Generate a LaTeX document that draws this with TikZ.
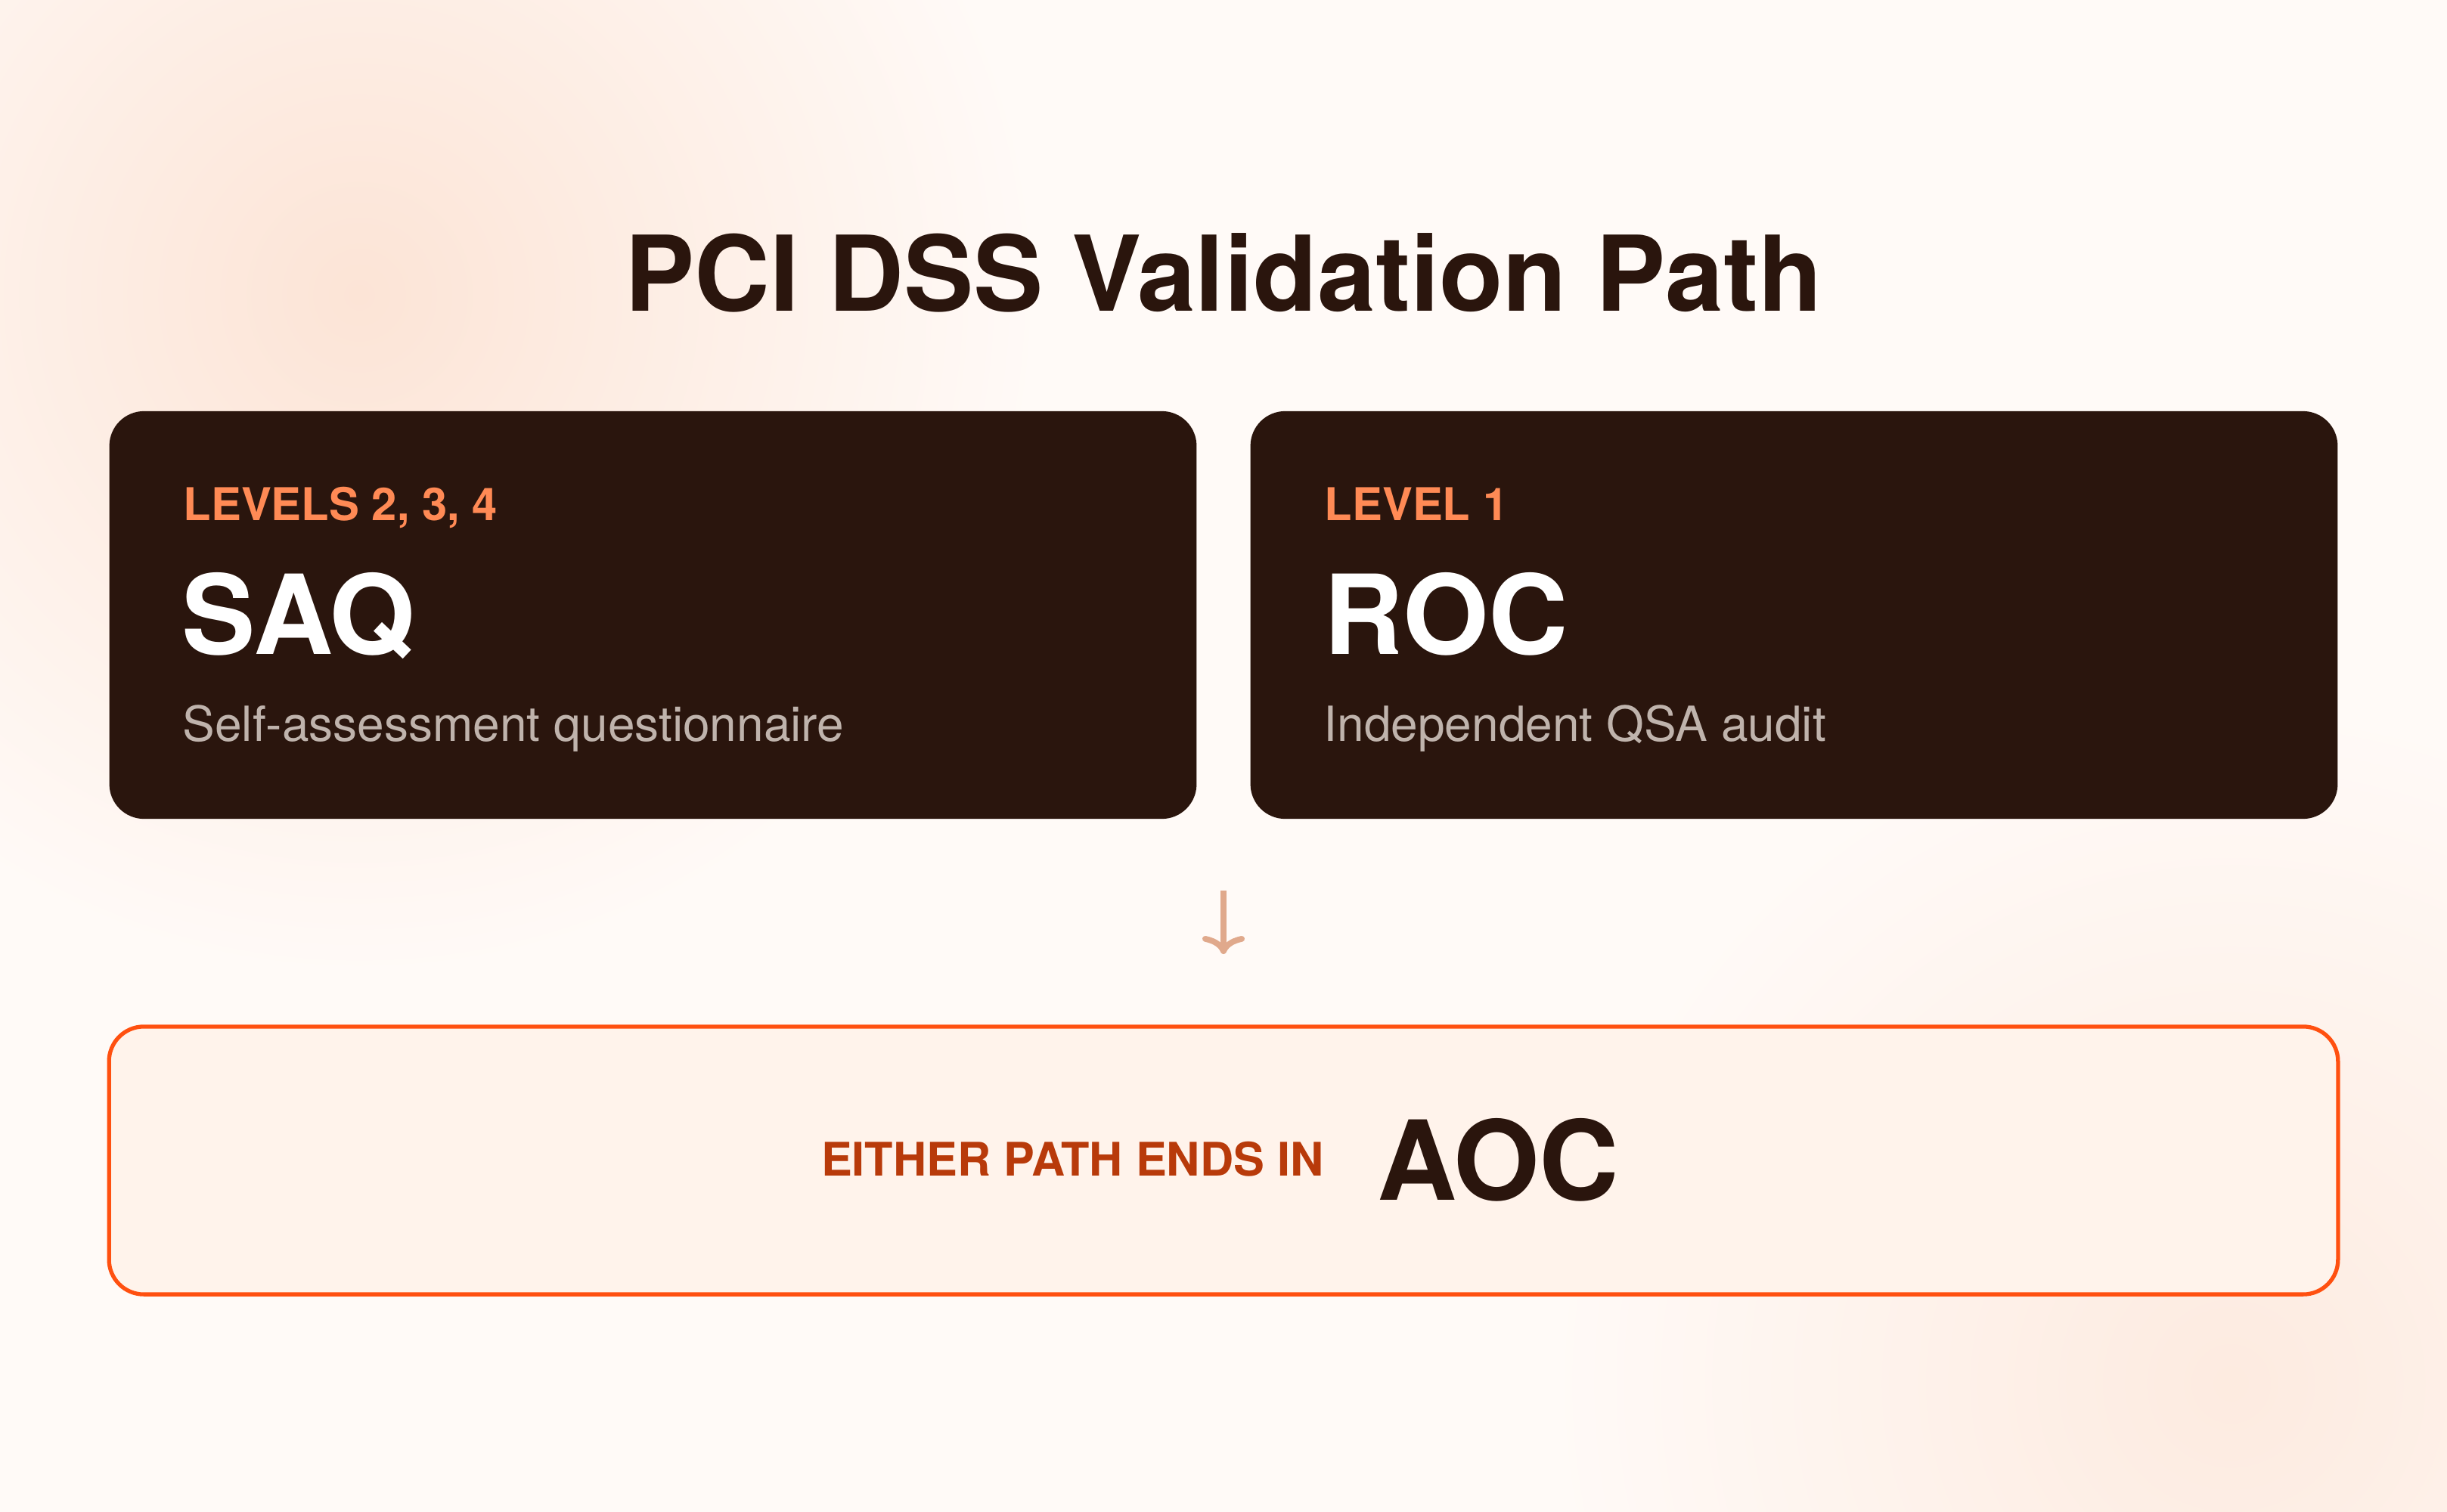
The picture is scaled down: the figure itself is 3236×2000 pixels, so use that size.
\documentclass[tikz,border=0pt]{standalone}
\usepackage{fontspec}
\setmainfont{TeX Gyre Heros}
\usetikzlibrary{arrows.meta}
\definecolor{paper}{HTML}{FFFAF7}
\definecolor{glow}{HTML}{FCE4D6}
\definecolor{ink}{HTML}{2A150D}
\definecolor{tangerine}{HTML}{FF8A55}
\definecolor{ash}{HTML}{BFB3AC}
\definecolor{flame}{HTML}{FF5010}
\definecolor{blush}{HTML}{FFF3EB}
\definecolor{rust}{HTML}{B83A0A}
\definecolor{clay}{HTML}{E0A98C}

\begin{document}
\begin{tikzpicture}[x=0.01cm, y=-0.01cm,
    card/.style={fill=ink, rounded corners=0.46cm, minimum width=14.37cm, minimum height=5.39cm, inner sep=0},
    endbox/.style={draw=flame, line width=1.5pt, fill=blush, rounded corners=0.46cm, minimum width=29.46cm, minimum height=3.54cm, inner sep=0},
    tag/.style={text=tangerine, font=\bfseries\fontsize{17}{20}\selectfont, inner sep=0},
    big/.style={text=white, font=\bfseries\fontsize{41.5}{48}\selectfont, inner sep=0},
    sub/.style={text=ash, font=\fontsize{18.2}{22}\selectfont, inner sep=0},
    flow/.style={draw=clay, line width=2.2pt, -{To[length=0.24cm, width=0.56cm]}}]

    % page and the two soft glows
    \useasboundingbox[fill=paper] (0,0) rectangle (3236,2000);
    \shade[inner color=glow, outer color=paper] (475,390) circle (9cm);
    \shade[inner color=glow!70!paper, outer color=paper] (2950,1830) circle (9cm);

    \node[text=ink, font=\bfseries\fontsize{39.3}{46}\selectfont, inner sep=0, anchor=base] (title) at (1618,411) {PCI DSS Validation Path};

    % the two cards
    \node[card] (saq) at (863.5,813.5) {};
    \node[card] (roc) at (2372.5,813.5) {};

    \node[tag, anchor=base west] (saq-tag) at (242,688) {LEVELS 2, 3, 4};
    \node[big, anchor=base west] (saq-name) at (240,865) {SAQ};
    \node[sub, anchor=base west] (saq-sub) at (241,980) {Self-assessment questionnaire};

    \node[tag, anchor=base west] (roc-tag) at (1751,688) {LEVEL 1};
    \node[big, anchor=base west] (roc-name) at (1750,865) {ROC};
    \node[sub, anchor=base west] (roc-sub) at (1750,980) {Independent QSA audit};

    % arrow down to the result
    \coordinate (a0) at (1618,1178);
    \coordinate (a1) at (1618,1262);
    \draw[flow] (a0) -- (a1);

    \node[endbox] (aoc) at (1618,1535) {};
    \node[text=rust, font=\bfseries\fontsize{17.4}{20}\selectfont, inner sep=0, anchor=base east] (aoc-tag) at (1751,1555) {EITHER PATH ENDS IN};
    \node[text=ink, font=\bfseries\fontsize{41.5}{48}\selectfont, inner sep=0, anchor=base west] (aoc-name) at (1821,1587) {AOC};
  \end{tikzpicture}
\end{document}
